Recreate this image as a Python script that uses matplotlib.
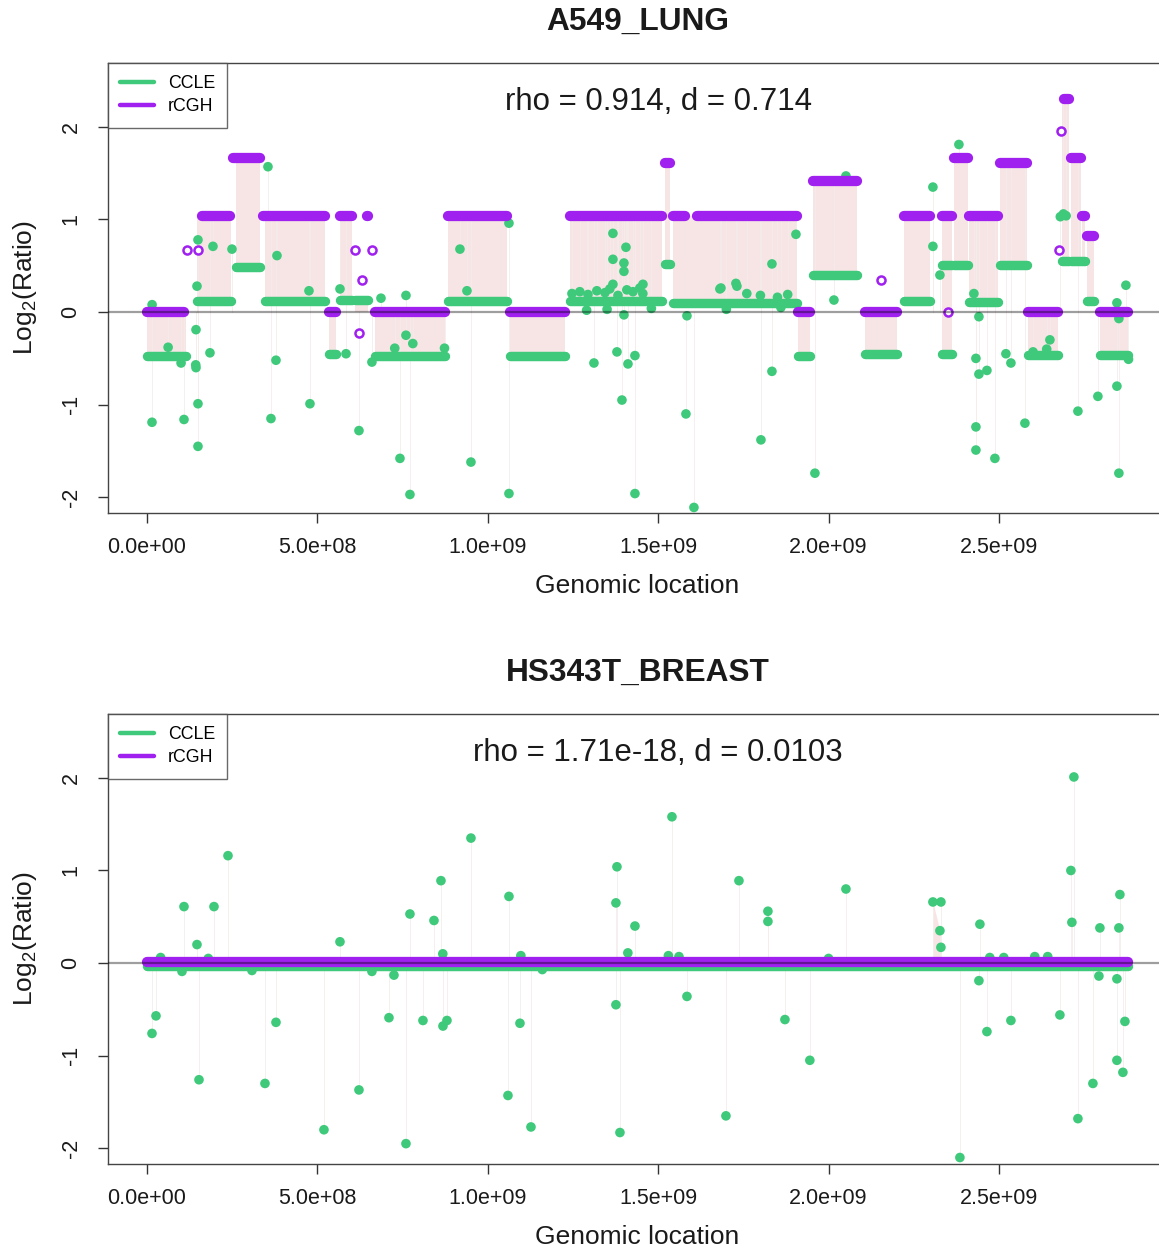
import matplotlib
matplotlib.use('Agg')
import matplotlib.pyplot as plt
from matplotlib.lines import Line2D
import numpy as np

plt.rcParams['font.family'] = ['Liberation Sans', 'DejaVu Sans']
plt.rcParams['mathtext.fontset'] = 'custom'
plt.rcParams['mathtext.rm'] = 'Liberation Sans'

GREEN = '#3EC97B'
PURPLE = '#A020F0'
PINK = '#F7E5E5'
SPIKE = '#F5ECEC'

MB = 1e6

x_ticks = [0, 5e8, 1e9, 1.5e9, 2e9, 2.5e9]
x_tick_labels = ['0.0e+00', '5.0e+08', '1.0e+09', '1.5e+09', '2.0e+09', '2.5e+09']
y_ticks = [-2, -1, 0, 1, 2]
y_tick_labels = ['-2', '-1', '0', '1', '2']

# ---------------- Panel 1: A549_LUNG ----------------
a549_title = 'A549_LUNG'
a549_stats = 'rho = 0.914, d = 0.714'
# rCGH segments (Mb)
a549_rcgh_start = [0, 161, 252, 340, 534, 566, 645, 669, 883, 1065, 1241, 1520, 1543, 1614,
                   1910, 1954, 2107, 2221, 2332, 2368, 2412, 2503, 2585, 2690, 2711, 2743, 2758, 2796]
a549_rcgh_end = [110, 244, 332, 522, 555, 601, 648, 874, 1056, 1226, 1511, 1534, 1579, 1907,
                 1945, 2083, 2200, 2297, 2362, 2409, 2497, 2582, 2673, 2705, 2740, 2752, 2778, 2878]
a549_rcgh_val = [0.0, 1.04, 1.66, 1.04, 0.0, 1.04, 1.04, 0.0, 1.04, 0.0, 1.04, 1.61, 1.04, 1.04,
                 0.0, 1.42, 0.0, 1.04, 1.04, 1.66, 1.04, 1.61, 0.0, 2.30, 1.66, 1.04, 0.82, 0.0]
# single-probe rCGH segments (open circles)
a549_rcgh_single_pos = [117, 150, 610, 660, 631, 622, 2154, 2350, 2676, 2682]
a549_rcgh_single_val = [0.67, 0.67, 0.67, 0.67, 0.35, -0.23, 0.35, 0.0, 0.67, 1.96]
# CCLE dense probe runs (Mb)
a549_ccle_start = [0, 147, 261, 346, 534, 566, 610, 669, 883, 1065, 1241, 1520, 1543, 1910, 1954,
                   2107, 2221, 2332, 2368, 2332, 2412, 2503, 2585, 2685, 2711, 2743, 2758, 2796]
a549_ccle_end = [114, 246, 332, 522, 555, 601, 648, 874, 1056, 1226, 1511, 1534, 1907, 1945, 2083,
                 2200, 2297, 2362, 2409, 2362, 2497, 2582, 2673, 2705, 2740, 2752, 2778, 2878]
a549_ccle_val = [-0.47, 0.12, 0.49, 0.12, -0.45, 0.13, 0.13, -0.47, 0.12, -0.47, 0.12, 0.52, 0.10,
                 -0.47, 0.40, -0.45, 0.12, 0.51, 0.51, -0.45, 0.11, 0.51, -0.46, 0.55, 0.55, 0.55,
                 0.12, -0.46]
# CCLE individual probes away from runs (Mb, log2 ratio)
a549_pt_pos = [14.7, 108.6, 149.6, 149.6, 143.8, 143.8, 184.8, 363.8, 378.5, 478.2, 622.0, 742.3,
               771.6, 759.9, 759.9, 950.6, 1062.1, 1311.5, 1379.0, 1393.7, 1411.3, 1431.8, 1431.8,
               1399.5, 1581.4, 1584.4, 1604.9, 1801.5, 1833.8, 1959.9, 2015.7, 2382.4, 2306.1,
               2306.1, 2326.7, 2426.4, 2432.3, 2441.1, 2441.1, 2464.6, 2432.3, 2432.3, 2488.0,
               2520.3, 2535.0, 2576.1, 2649.4, 2731.6, 2790.2, 2846.0, 2851.8, 2846.0, 2872.4,
               2851.8, 149.6, 193.6, 249.4, 355.0, 381.4, 146.7, 475.3, 566.3, 686.6, 918.3,
               938.9, 1062.1, 1367.2, 1405.4, 1367.2, 1399.5, 1399.5, 1367.2, 1455.3, 1833.8,
               1904.2, 1684.1, 1728.1, 2050.9, 2680.0, 2689.0, 2697.0,
               15.0, 62.0, 100.0, 143.0, 584.0, 727.0, 780.0, 873.0, 660.0,
               1247, 1270, 1294, 1320, 1344, 1358, 1382, 1408, 1426, 1446, 1455, 1681, 1731,
               1760, 1800, 1850, 1880, 1290, 1350, 1480, 1700, 1860, 2600, 2640, 2880]
a549_pt_val = [-1.19, -1.16, -0.99, -1.45, -0.60, -0.19, -0.44, -1.15, -0.52, -0.99, -1.28, -1.58,
               -1.97, -0.25, 0.18, -1.62, -1.96, -0.55, -0.43, -0.95, -0.56, -0.47, -1.96, -0.03,
               -1.10, -0.04, -2.11, -1.38, -0.64, -1.74, 0.13, 1.81, 1.35, 0.71, 0.40, 0.20, -0.50,
               -0.67, -0.05, -0.63, -1.24, -1.49, -1.58, -0.45, -0.55, -1.20, -0.30, -1.07, -0.91,
               -0.80, -1.74, 0.10, 0.29, -0.07, 0.78, 0.71, 0.68, 1.57, 0.61, 0.28, 0.23, 0.25, 0.15,
               0.68, 0.23, 0.96, 0.85, 0.70, 0.57, 0.53, 0.44, 0.30, 0.30, 0.52, 0.84, 0.26, 0.31,
               1.47, 1.03, 1.06, 1.04,
               0.08, -0.38, -0.55, -0.57, -0.45, -0.39, -0.34, -0.39, -0.54,
               0.20, 0.22, 0.19, 0.23, 0.21, 0.25, 0.18, 0.24, 0.22, 0.26, 0.20, 0.25, 0.28,
               0.20, 0.18, 0.16, 0.19, 0.02, 0.03, 0.04, 0.03, 0.05, -0.43, -0.40, -0.51]

# ---------------- Panel 2: HS343T_BREAST ----------------
hs_title = 'HS343T_BREAST'
hs_stats = 'rho = 1.71e-18, d = 0.0103'
hs_rcgh_start = [0]
hs_rcgh_end = [2878]
hs_rcgh_val = [0.01]
hs_rcgh_single_pos = []
hs_rcgh_single_val = []
hs_ccle_start = [0]
hs_ccle_end = [2878]
hs_ccle_val = [-0.035]
hs_pt_pos = [14.7, 26.4, 108.6, 196.6, 237.7, 146.7, 152.6, 346.2, 378.5, 566.3, 519.3, 622.0,
             710.0, 724.7, 771.6, 759.9, 809.8, 842.1, 862.6, 868.5, 880.2, 950.6, 1062.1, 1094.4,
             1059.2, 1126.7, 1379.0, 1376.0, 1431.8, 1376.0, 1387.8, 1540.4, 1584.4, 1737.0,
             1822.0, 1822.0, 1698.8, 1871.9, 1945.0, 2050.9, 2306.1, 2329.6, 2326.7, 2329.6,
             2444.0, 2441.1, 2464.6, 2535.0, 2385.3, 2678.7, 2719.8, 2711.0, 2713.9, 2731.6,
             2775.6, 2796.1, 2793.2, 2854.8, 2851.8, 2846.0, 2846.0, 2863.6, 2869.5,
             102.7, 308.0, 868.0, 1411.0, 1097.0, 1561.0, 2605.0, 2643.0, 2473.0, 2514.0,
             40.0, 180.0, 660.0, 1160.0, 1530.0, 2000.0]
hs_pt_val = [-0.76, -0.57, 0.61, 0.61, 1.16, 0.20, -1.26, -1.30, -0.64, 0.23, -1.80, -1.37, -0.59,
             -0.13, 0.53, -1.95, -0.62, 0.46, 0.89, -0.68, -0.62, 1.35, 0.72, -0.65, -1.43, -1.77,
             1.04, 0.65, 0.40, -0.45, -1.83, 1.58, -0.36, 0.89, 0.56, 0.45, -1.65, -0.61, -1.05,
             0.80, 0.66, 0.66, 0.35, 0.17, 0.42, -0.19, -0.74, -0.62, -2.10, -0.56, 2.01, 1.00,
             0.44, -1.68, -1.30, 0.38, -0.14, 0.74, 0.38, -0.17, -1.05, -1.18, -0.63,
             -0.09, -0.08, 0.10, 0.11, 0.08, 0.07, 0.07, 0.07, 0.06, 0.06,
             0.06, 0.05, -0.09, -0.07, 0.08, 0.05]

# ---------------- layout ----------------
fig = plt.figure(figsize=(11.59, 12.5), dpi=100)
W, H = 1159.0, 1250.0
ax_left = 108 / W
ax_w = (1167 - 108) / W
ax_h = 450 / H
ax1 = fig.add_axes([ax_left, 1 - 513 / H, ax_w, ax_h])
ax2 = fig.add_axes([ax_left, 1 - 1164 / H, ax_w, ax_h])


def rcgh_at(pos, starts, ends, vals):
    for s, e, v in zip(starts, ends, vals):
        if s - 1 <= pos <= e + 1:
            return v
    return 0.0


def draw_panel(ax, title, stats, rs, re, rv, sp, sv, cs, ce, cv, pp, pv, title_y):
    # pink area between the two profiles
    for s, e, v in zip(cs, ce, cv):
        r = rcgh_at((s + e) / 2.0, rs, re, rv)
        ax.fill_between([s * MB, e * MB], [v, v], [r, r], color=PINK, lw=0, zorder=1)
    for p, v in zip(pp, pv):
        r = rcgh_at(p, rs, re, rv)
        ax.plot([p * MB, p * MB], [v, r], color=SPIKE, lw=0.6, zorder=1.5)
    # CCLE dense runs and single probes
    for s, e, v in zip(cs, ce, cv):
        ax.plot([s * MB, e * MB], [v, v], color=GREEN, lw=6.8, solid_capstyle='round', zorder=2)
    ax.scatter(np.array(pp) * MB, pv, s=48, color=GREEN, edgecolors='none', zorder=2.2)
    # rCGH segments
    for s, e, v in zip(rs, re, rv):
        ax.plot([s * MB, e * MB], [v, v], color=PURPLE, lw=7.4, solid_capstyle='round', zorder=3)
    if len(sp):
        ax.plot(np.array(sp) * MB, sv, 'o', ms=5.8, mfc='white', mec=PURPLE, mew=1.8,
                ls='none', zorder=3.2)
    ax.axhline(0, color='black', alpha=0.38, lw=1.6, zorder=4)

    ax.set_xlim(-114.4e6, 2.993e9)
    ax.set_ylim(-2.17, 2.69)
    ax.set_xticks(x_ticks)
    ax.set_xticklabels(x_tick_labels)
    ax.set_yticks(y_ticks)
    ax.set_yticklabels(y_tick_labels, rotation=90, va='center')
    ax.tick_params(axis='both', direction='out', length=7, width=1, color='#333',
                   labelsize=15.5, labelcolor='#1a1a1a')
    ax.tick_params(axis='x', pad=10)
    ax.tick_params(axis='y', pad=12)
    for sp_ in ax.spines.values():
        sp_.set_color('#444')
        sp_.set_linewidth(1.0)

    ax.set_xlabel('Genomic location', fontsize=19, color='#1a1a1a', va='center')
    ax.xaxis.set_label_coords(0.5, -(586 - 513) / 450.0)
    ax.set_ylabel(r'Log$_\mathregular{2}$(Ratio)', fontsize=19, color='#1a1a1a', va='center')
    ax.yaxis.set_label_coords(-(108 - 25) / 1059.0, 0.5)

    ax.text(1.5e9, 2.27, stats, fontsize=22.5, ha='center', va='center', color='#1a1a1a')
    fig.text(637.5 / W, 1 - title_y / H, title, fontsize=22.8, fontweight='bold',
             ha='center', va='center', color='#1a1a1a')

    handles = [Line2D([0], [0], color=GREEN, lw=3.2, solid_capstyle='round'),
               Line2D([0], [0], color=PURPLE, lw=3.2, solid_capstyle='round')]
    leg = ax.legend(handles, ['CCLE', 'rCGH'], loc='upper left', bbox_to_anchor=(0, 1),
                    borderaxespad=0, frameon=True, fancybox=False, fontsize=12.8,
                    handlelength=1.9, handletextpad=0.8, labelspacing=0.36, borderpad=0.68)
    leg.get_frame().set_edgecolor('#444')
    leg.get_frame().set_linewidth(1.0)
    leg.set_zorder(10)


draw_panel(ax1, a549_title, a549_stats, a549_rcgh_start, a549_rcgh_end, a549_rcgh_val,
           a549_rcgh_single_pos, a549_rcgh_single_val, a549_ccle_start, a549_ccle_end,
           a549_ccle_val, a549_pt_pos, a549_pt_val, 22)
draw_panel(ax2, hs_title, hs_stats, hs_rcgh_start, hs_rcgh_end, hs_rcgh_val,
           hs_rcgh_single_pos, hs_rcgh_single_val, hs_ccle_start, hs_ccle_end,
           hs_ccle_val, hs_pt_pos, hs_pt_val, 673)

# small pink wedge of the high-value probe cluster in panel 2
wedge = sorted([(p, v) for p, v in zip(hs_pt_pos, hs_pt_val) if 2300 <= p <= 2335])
ax2.fill_between([w[0] * MB for w in wedge], [w[1] for w in wedge], 0, color=PINK, lw=0, zorder=1)

fig.savefig('out.png', dpi=100)
